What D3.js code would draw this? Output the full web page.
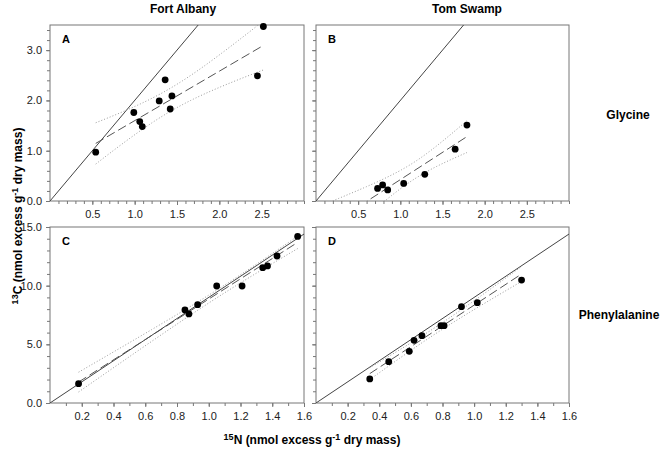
<!DOCTYPE html>
<html><head><meta charset="utf-8">
<script src="https://cdn.jsdelivr.net/npm/d3@7"></script>
<style>body{margin:0;background:#fff} text{font-family:"Liberation Sans",Arial,Helvetica,sans-serif}</style>
</head><body><svg id="c" width="661" height="454"></svg>
<script>
// ---------- data ----------
const siteNames = ["Fort Albany", "Tom Swamp"];
const aminoAcids = ["Glycine", "Phenylalanine"];
const panelLetters = ["A", "B", "C", "D"];

// Glycine, Fort Albany
const glyFA_N = [0.54, 0.99, 1.06, 1.09, 1.29, 1.36, 1.42, 1.44, 2.45, 2.52];
const glyFA_C = [0.97, 1.76, 1.58, 1.48, 1.99, 2.41, 1.83, 2.09, 2.49, 3.47];
// Glycine, Tom Swamp
const glyTS_N = [0.73, 0.79, 0.85, 1.04, 1.29, 1.65, 1.79];
const glyTS_C = [0.25, 0.32, 0.22, 0.35, 0.53, 1.03, 1.51];
// Phenylalanine, Fort Albany
const pheFA_N = [0.18, 0.85, 0.875, 0.93, 1.05, 1.21, 1.34, 1.37, 1.43, 1.56];
const pheFA_C = [1.65, 7.93, 7.59, 8.38, 9.97, 9.97, 11.53, 11.68, 12.53, 14.2];
// Phenylalanine, Tom Swamp
const pheTS_N = [0.34, 0.46, 0.59, 0.62, 0.67, 0.79, 0.81, 0.92, 1.02, 1.30];
const pheTS_C = [2.05, 3.52, 4.40, 5.34, 5.74, 6.59, 6.59, 8.21, 8.55, 10.48];

// expected 13C:15N ratio (C atoms per N atom) for the reference line
const expectedRatio = [2, 2, 9, 9];
// whether the fitted lines extend to the axis
const fitToAxis = [false, true, false, false];

const glyXDomain = [0, 3], glyYDomain = [0, 3.5];
const pheXDomain = [0, 1.6], pheYDomain = [0, 15];
const glyXTicks = [0.5, 1.0, 1.5, 2.0, 2.5];
const glyYTicks = [0, 1, 2, 3];
const pheXTicks = [0.2, 0.4, 0.6, 0.8, 1.0, 1.2, 1.4, 1.6];
const pheYTicks = [0, 5, 10, 15];
const glyXMinor = d3.range(0.1, 3.0001, 0.1);
const glyYMinor = d3.range(0, 3.5001, 0.2);
const pheXMinor = d3.range(0.1, 1.6001, 0.1);
const pheYMinor = d3.range(0, 15.0001, 1);
// two-sided 95% t critical values by degrees of freedom
const tCrit = {5: 2.571, 6: 2.447, 7: 2.365, 8: 2.306, 9: 2.262};

// ---------- layout ----------
const svg = d3.select("#c");
const boxes = [
  {x0: 50, x1: 304, y0: 25, y1: 201},
  {x0: 316, x1: 569, y0: 25, y1: 201},
  {x0: 50, x1: 304, y0: 227, y1: 403},
  {x0: 316, x1: 569, y0: 227, y1: 403}
];
const panels = [
  {N: glyFA_N, C: glyFA_C, xd: glyXDomain, yd: glyYDomain, xt: glyXTicks, yt: glyYTicks, xm: glyXMinor, ym: glyYMinor, yLabels: true},
  {N: glyTS_N, C: glyTS_C, xd: glyXDomain, yd: glyYDomain, xt: glyXTicks, yt: glyYTicks, xm: glyXMinor, ym: glyYMinor, yLabels: false},
  {N: pheFA_N, C: pheFA_C, xd: pheXDomain, yd: pheYDomain, xt: pheXTicks, yt: pheYTicks, xm: pheXMinor, ym: pheYMinor, yLabels: true},
  {N: pheTS_N, C: pheTS_C, xd: pheXDomain, yd: pheYDomain, xt: pheXTicks, yt: pheYTicks, xm: pheXMinor, ym: pheYMinor, yLabels: false}
];

svg.append("rect").attr("width", 661).attr("height", 454).attr("fill", "#fff");
const defs = svg.append("defs");
const axisCol = "#777";

panels.forEach((p, i) => {
  const b = boxes[i];
  const x = d3.scaleLinear().domain(p.xd).range([b.x0, b.x1]);
  const y = d3.scaleLinear().domain(p.yd).range([b.y1, b.y0]);
  const g = svg.append("g");
  defs.append("clipPath").attr("id", "clip" + i)
    .append("rect").attr("x", b.x0).attr("y", b.y0).attr("width", b.x1 - b.x0).attr("height", b.y1 - b.y0);

  // minor ticks
  const xMinorAxis = d3.axisBottom(x).tickValues(p.xm).tickSize(3).tickFormat("");
  const yMinorAxis = d3.axisLeft(y).tickValues(p.ym).tickSize(3).tickFormat("");
  const gxm = g.append("g").attr("transform", `translate(0,${b.y1})`).call(xMinorAxis);
  const gym = g.append("g").attr("transform", `translate(${b.x0},0)`).call(yMinorAxis);
  // major ticks
  const xAxis = d3.axisBottom(x).tickValues(p.xt).tickSize(4).tickPadding(5).tickFormat(d3.format(".1f"));
  const yAxis = d3.axisLeft(y).tickValues(p.yt).tickSize(4).tickPadding(4).tickFormat(p.yLabels ? d3.format(".1f") : "");
  const gx = g.append("g").attr("transform", `translate(0,${b.y1})`).call(xAxis);
  const gy = g.append("g").attr("transform", `translate(${b.x0},0)`).call(yAxis);
  [gxm, gym, gx, gy].forEach(a => {
    a.select(".domain").remove();
    a.selectAll("line").attr("stroke", axisCol);
    a.selectAll("text").attr("fill", "#222").style("font-size", "11px")
      .style("font-family", '"Liberation Sans",Arial,sans-serif');
  });
  // frame
  g.append("rect").attr("x", b.x0).attr("y", b.y0).attr("width", b.x1 - b.x0).attr("height", b.y1 - b.y0)
    .attr("fill", "none").attr("stroke", axisCol).attr("stroke-width", 1);

  const plot = g.append("g").attr("clip-path", `url(#clip${i})`);

  // expected ratio line
  const xEnd = p.xd[1];
  plot.append("line")
    .attr("x1", x(0)).attr("y1", y(0))
    .attr("x2", x(xEnd)).attr("y2", y(expectedRatio[i] * xEnd))
    .attr("stroke", "#444").attr("stroke-width", 1);

  // linear regression and 95% confidence band
  const n = p.N.length;
  const mx = d3.mean(p.N), my = d3.mean(p.C);
  let sxx = 0, sxy = 0;
  p.N.forEach((v, k) => { sxx += (v - mx) ** 2; sxy += (v - mx) * (p.C[k] - my); });
  const slope = sxy / sxx, icpt = my - slope * mx;
  let sse = 0;
  p.N.forEach((v, k) => { sse += (p.C[k] - (icpt + slope * v)) ** 2; });
  const s = Math.sqrt(sse / (n - 2));
  const t = tCrit[n - 2];
  const xa = fitToAxis[i] ? p.xd[0] : d3.min(p.N), xb = d3.max(p.N);
  const xs = d3.range(0, 61).map(k => xa + (xb - xa) * k / 60);
  const half = v => t * s * Math.sqrt(1 / n + (v - mx) ** 2 / sxx);
  const line = d3.line().x(d => x(d[0])).y(d => y(d[1]));
  plot.append("path").attr("d", line(xs.map(v => [v, icpt + slope * v + half(v)])))
    .attr("fill", "none").attr("stroke", "#9a9a9a").attr("stroke-width", 1).attr("stroke-dasharray", "1,2");
  plot.append("path").attr("d", line(xs.map(v => [v, icpt + slope * v - half(v)])))
    .attr("fill", "none").attr("stroke", "#9a9a9a").attr("stroke-width", 1).attr("stroke-dasharray", "1,2");
  plot.append("path").attr("d", line([[xa, icpt + slope * xa], [xb, icpt + slope * xb]]))
    .attr("fill", "none").attr("stroke", "#555").attr("stroke-width", 1).attr("stroke-dasharray", "9,4");

  // points
  g.selectAll("circle.pt").data(p.N.map((v, k) => [v, p.C[k]])).join("circle")
    .attr("class", "pt").attr("cx", d => x(d[0])).attr("cy", d => y(d[1])).attr("r", 3.4).attr("fill", "#000");

  // panel letter
  g.append("text").attr("x", b.x0 + 12).attr("y", b.y0 + 18).text(panelLetters[i])
    .style("font-size", "11px").style("font-weight", "bold").attr("fill", "#000");
});

// column titles
const titleX = [183, 467];
siteNames.forEach((t, k) => {
  svg.append("text").attr("x", titleX[k]).attr("y", 13).attr("text-anchor", "middle")
    .style("font-size", "12px").style("font-weight", "bold").text(t);
});
// row labels
const rowX = [628, 619];
const rowY = [119, 319];
aminoAcids.forEach((t, k) => {
  svg.append("text").attr("x", rowX[k]).attr("y", rowY[k]).attr("text-anchor", "middle")
    .style("font-size", "12px").style("font-weight", "bold").text(t);
});

// axis titles
const xl = svg.append("text").attr("x", 312).attr("y", 444).attr("text-anchor", "middle")
  .style("font-size", "12px").style("font-weight", "bold");
xl.append("tspan").text("15").style("font-size", "9px").attr("dy", "-4");
xl.append("tspan").text("N (nmol excess g").attr("dy", "4");
xl.append("tspan").text("-1").style("font-size", "9px").attr("dy", "-4");
xl.append("tspan").text(" dry mass)").attr("dy", "4");

const yl = svg.append("text").attr("transform", "translate(22,216) rotate(-90)").attr("text-anchor", "middle")
  .style("font-size", "12px").style("font-weight", "bold");
yl.append("tspan").text("13").style("font-size", "9px").attr("dy", "-4");
yl.append("tspan").text("C (nmol excess g").attr("dy", "4");
yl.append("tspan").text("-1").style("font-size", "9px").attr("dy", "-4");
yl.append("tspan").text(" dry mass)").attr("dy", "4");
</script></body></html>
